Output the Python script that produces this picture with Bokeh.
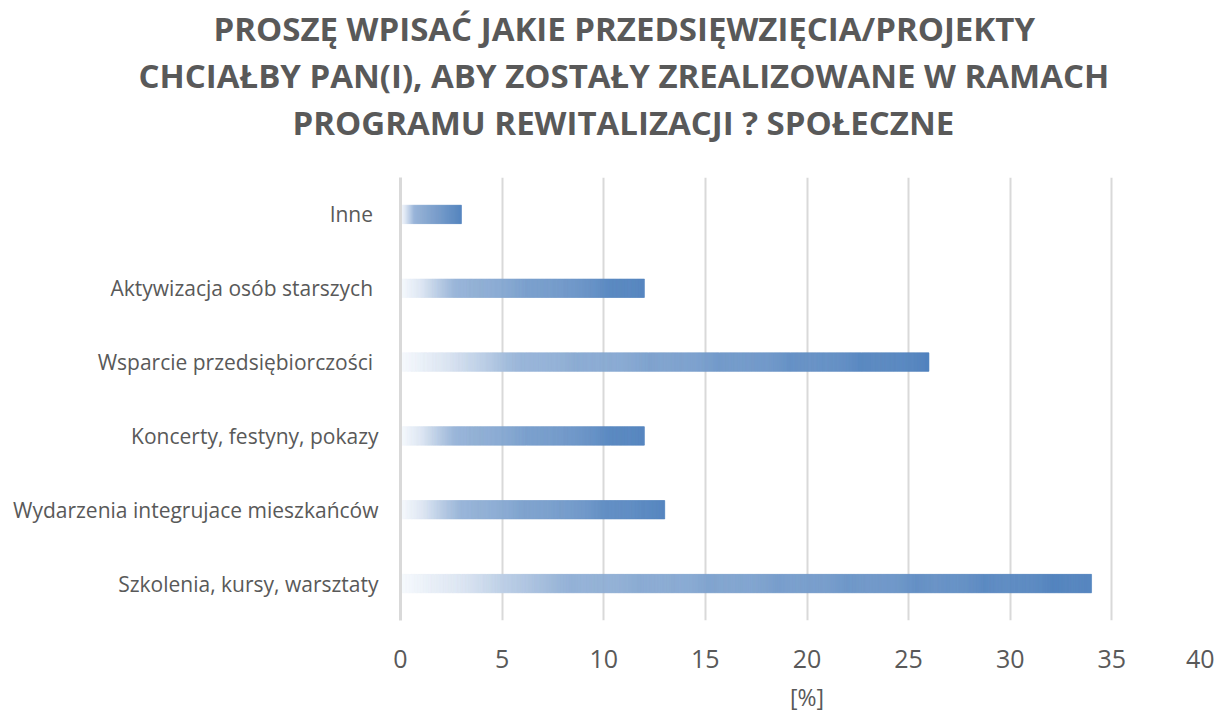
from bokeh.plotting import figure
from bokeh.models import Title, ColumnDataSource, FixedTicker
from bokeh.embed import file_html
from bokeh.resources import INLINE

# ---- data ----
categories = ["Szkolenia, kursy, warsztaty",
              "Wydarzenia integrujace mieszkańców",
              "Koncerty, festyny, pokazy",
              "Wsparcie przedsiębiorczości ",
              "Aktywizacja osób starszych ",
              "Inne "]
values = [34, 13, 12, 26, 12, 3]
x_ticks = [0, 5, 10, 15, 20, 25, 30, 35, 40]
title_lines = ["PROSZĘ WPISAĆ JAKIE PRZEDSIĘWZIĘCIA/PROJEKTY",
               "CHCIAŁBY PAN(I), ABY ZOSTAŁY ZREALIZOWANE W RAMACH",
               "PROGRAMU REWITALIZACJI ? SPOŁECZNE"]
x_label = "[%]"

FONT = "Open Sans"
GRAY = "#595959"

# gradient stops (position along bar, rgb)
stops = [(0.0, (246, 249, 253)), (0.08, (222, 231, 243)), (0.23, (150, 179, 215)), (1.0, (79, 129, 189))]


def grad(t):
    for (p0, c0), (p1, c1) in zip(stops[:-1], stops[1:]):
        if t <= p1:
            f = (t - p0) / (p1 - p0)
            return "#%02x%02x%02x" % tuple(int(round(a + (b - a) * f)) for a, b in zip(c0, c1))
    return "#%02x%02x%02x" % stops[-1][1]


ys, lefts, rights, colors = [], [], [], []
for c, v in zip(categories, values):
    n = int(v * 20) + 1
    for i in range(n):
        ys.append(c)
        lefts.append(v * i / n)
        rights.append(v * (i + 1) / n)
        colors.append(grad((i + 0.5) / n))
src = ColumnDataSource(dict(y=ys, left=lefts, right=rights, color=colors))

p = figure(y_range=categories, x_range=(0, 40),
           frame_width=813, frame_height=443,
           min_border_left=400, min_border_right=1,
           min_border_top=177, min_border_bottom=79,
           output_backend="svg", toolbar_location=None,
           background_fill_color="white", border_fill_color="white",
           outline_line_color=None)

p.hbar(y="y", left="left", right="right", height=0.25, fill_color="color",
       line_color="color", line_width=0.6, source=src)

# spacer between the title block and the plot frame (first added = nearest frame)
p.add_layout(Title(text=" ", text_font_size="10px", standoff=20), "above")
# title lines, nearest-to-frame first; left-aligned with offsets so they centre near x=623
title_offsets = [-187, -262, -108]
for line, off in reversed(list(zip(title_lines, title_offsets))):
    p.add_layout(Title(text=line, align="left", offset=off, standoff=0,
                       text_font=FONT, text_font_size="33px", text_font_style="bold",
                       text_color=GRAY), "above")

# x axis
p.xaxis.ticker = FixedTicker(ticks=x_ticks)
p.xaxis.axis_line_color = None
p.xaxis.major_tick_line_color = None
p.xaxis.minor_tick_line_color = None
p.xaxis.major_label_text_font = FONT
p.xaxis.major_label_text_font_size = "25px"
p.xaxis.major_label_text_color = GRAY
p.xaxis.major_label_standoff = 23
p.xaxis.axis_label = x_label
p.xaxis.axis_label_text_font = FONT
p.xaxis.axis_label_text_font_size = "23px"
p.xaxis.axis_label_text_font_style = "normal"
p.xaxis.axis_label_text_color = GRAY
p.xaxis.axis_label_standoff = 10

# y axis
p.yaxis.axis_line_color = "#d9d9d9"
p.yaxis.axis_line_width = 3
p.yaxis.major_tick_line_color = None
p.yaxis.minor_tick_line_color = None
p.yaxis.major_label_text_font = FONT
p.yaxis.major_label_text_font_size = "21px"
p.yaxis.major_label_text_color = GRAY
p.yaxis.major_label_standoff = 16

p.xgrid.grid_line_color = "#d9d9d9"
p.xgrid.grid_line_width = 2
p.ygrid.grid_line_color = None

open("out.html", "w").write(file_html(p, INLINE))
